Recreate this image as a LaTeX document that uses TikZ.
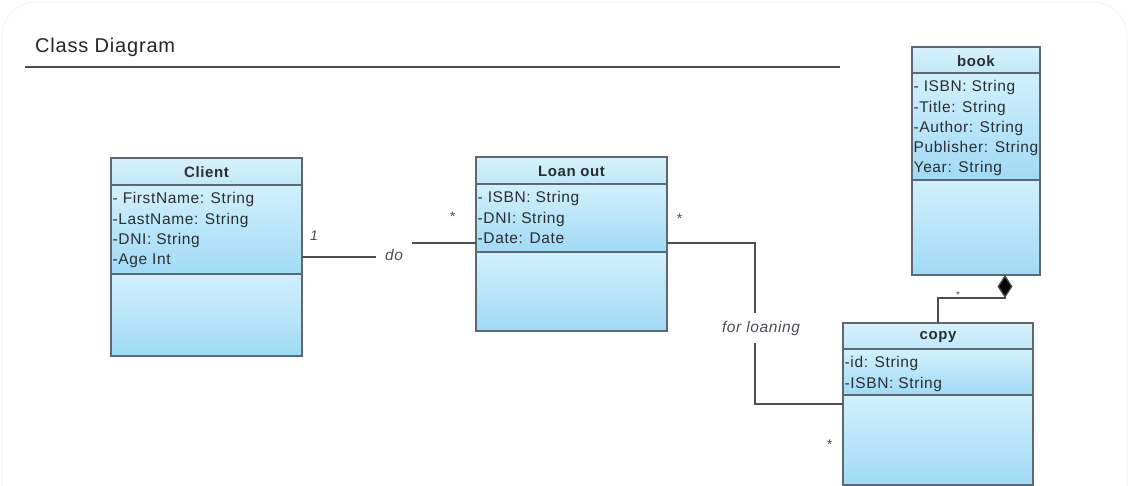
\documentclass[tikz,border=0pt]{standalone}
\usepackage{fontspec}
\setmainfont{Liberation Sans}[LetterSpace=4]
\usetikzlibrary{arrows.meta}

\definecolor{framecol}{HTML}{5E6873}
\definecolor{titletop}{HTML}{D6F1FC}
\definecolor{titlebot}{HTML}{C0E8F9}
\definecolor{comptop}{HTML}{D2F0FC}
\definecolor{compbot}{HTML}{A0DAF5}
\definecolor{textcol}{HTML}{2A2E33}
\definecolor{linecol}{HTML}{4A4F55}

\tikzset{
  frame/.style={draw=framecol, line width=1.5pt},
  classframe/.style={frame, rectangle, inner sep=0pt, outer sep=0pt},
  classtitle/.style={font=\fontsize{15}{17}\selectfont\bfseries, text=textcol, inner sep=0pt},
  attrlist/.style={font=\fontsize{15.5}{20.2}\selectfont, text=textcol, align=left,
                   inner xsep=1.5pt, inner ysep=0pt, anchor=north west},
  assoc/.style={draw=linecol, line width=1.3pt},
  lbl/.style={font=\fontsize{15.5}{17}\selectfont\itshape, text=linecol, inner sep=0pt},
  mult/.style={font=\fontsize{14}{16}\selectfont\itshape, text=linecol, inner sep=0pt},
}

% #1 name, #2 left, #3 top, #4 right, #5 bottom, #6 title rule, #7 attribute rule,
% #8 class name, #9 attribute lines
\newcommand\umlclass[9]{%
  \shade[top color=titletop, bottom color=titlebot] (#2,#3) rectangle (#4,#6);
  \shade[top color=comptop, bottom color=compbot] (#2,#6) rectangle (#4,#7);
  \shade[top color=comptop, bottom color=compbot] (#2,#7) rectangle (#4,#5);
  \draw[frame] (#2,#6) -- (#4,#6) (#2,#7) -- (#4,#7);
  \node[classframe, minimum width={(#4-#2)*1pt}, minimum height={(#5-#3)*1pt}]
    (#1) at ({(#2+#4)/2},{(#3+#5)/2}) {};
  \node[classtitle] (#1-name) at ({(#2+#4)/2},{(#3+#6)/2+1}) {#8};
  \node[attrlist] (#1-attrs) at (#2,{#6+7.5}) {#9};
}

\begin{document}
\begin{tikzpicture}[x=1pt,y=-1pt]
  \useasboundingbox (0,0) rectangle (1129,486);
  \fill[white] (0,0) rectangle (1129,486);
  \draw[black!4, line width=1pt, rounded corners=34pt] (2,2) rectangle (1127,520);

  % heading
  \node[font=\fontsize{20}{23}\selectfont, text=black!85, anchor=west, inner sep=0pt]
    (heading) at (35,47) {Class Diagram};
  \draw[draw=linecol, line width=1.2pt] (25,67) -- (840,67);

  % classes
  \umlclass{client}{111}{158}{302}{356}{185}{274}{Client}
    {- FirstName: String\\-LastName: String\\-DNI: String\\-Age Int}
  \umlclass{loan}{476}{157}{667}{331}{184}{252}{Loan out}
    {- ISBN: String\\-DNI: String\\-Date: Date}
  \umlclass{book}{912}{47}{1040}{275}{73}{180}{book}
    {- ISBN: String\\-Title: String\\-Author: String\\Publisher: String\\Year: String}
  \umlclass{copy}{843}{323}{1033}{485}{349}{395}{copy}
    {-id: String\\-ISBN: String}

  % association: client -- loan out
  \node[lbl, minimum width=36pt, minimum height=20pt] (do) at (394,255) {do};
  \draw[assoc] (client.east) -- (client.east -| do.west);
  \draw[assoc] ([yshift=1pt]loan.west -| do.east) -- ([yshift=1pt]loan.west);
  \node[mult] (m1) at (314,236) {1};
  \node[mult] (m2) at (452,217) {*};

  % association: loan out -- copy
  \node[lbl, minimum height=30pt] (loaning) at (761,328) {for loaning};
  \draw[assoc] ([yshift=1pt]loan.east) -| ([xshift=-6pt]loaning.north);
  \draw[assoc] ([xshift=-6pt]loaning.south) |- (copy.west);
  \node[mult] (m3) at (679,219) {*};
  \node[mult] (m4) at (829,445) {*};

  % composition: copy -- book
  \draw[assoc, -{Diamond[length=23pt, width=15pt, fill=black]}]
    (copy.north) |- ([xshift=29pt, yshift=-23pt]book.south) -- ([xshift=29pt]book.south);
  \node[mult, font=\fontsize{10}{12}\selectfont] (m5) at (958,295) {*};
\end{tikzpicture}
\end{document}
